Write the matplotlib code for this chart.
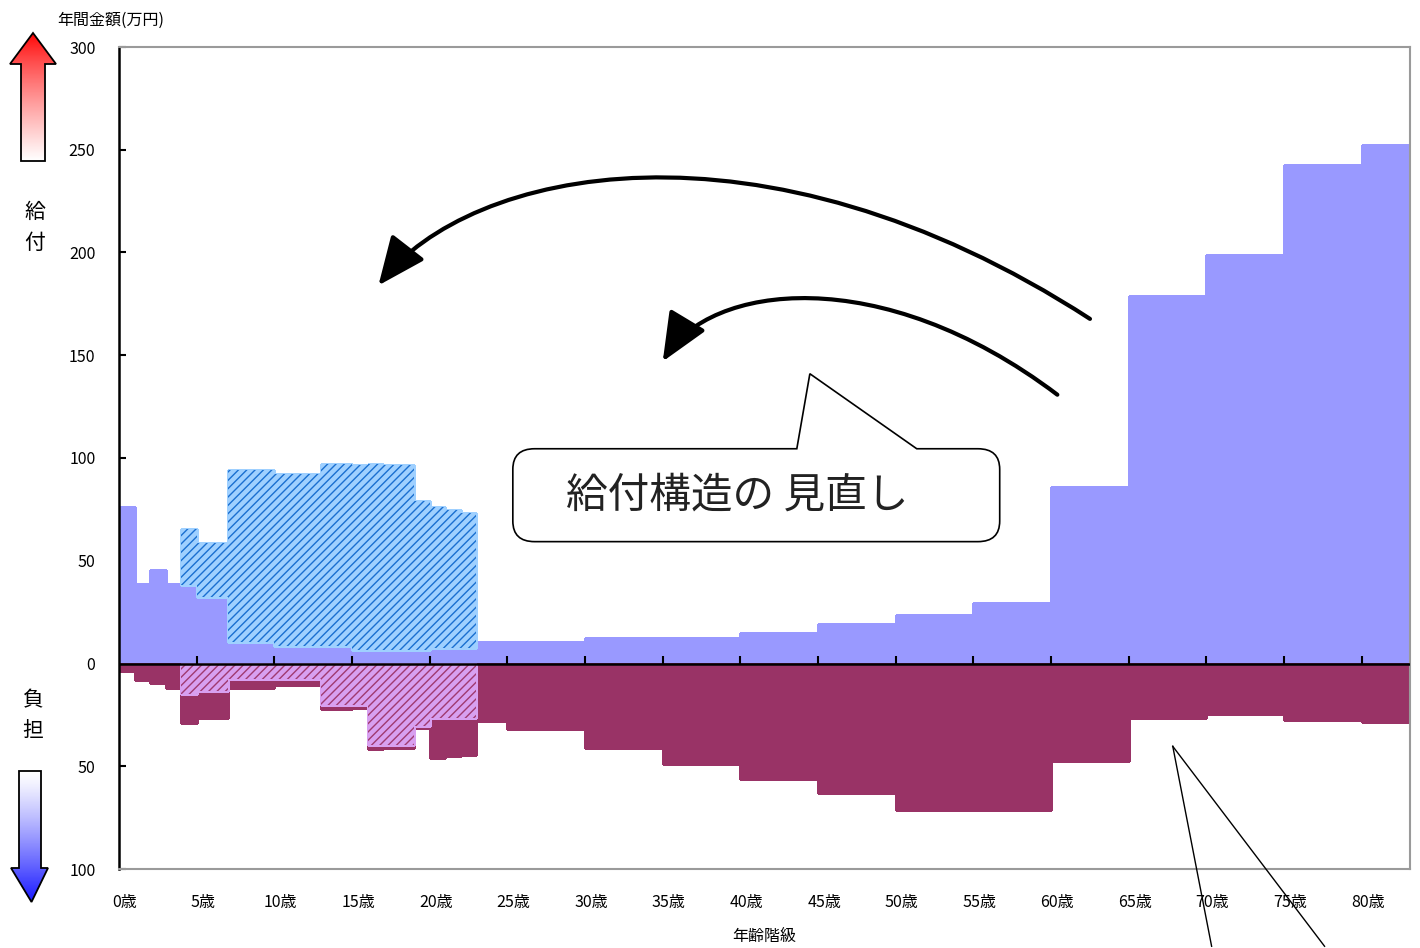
import numpy as np
import matplotlib

matplotlib.use("Agg")
import matplotlib.pyplot as plt
from matplotlib.patches import Polygon, FancyArrowPatch, PathPatch
from matplotlib.path import Path
from matplotlib.ticker import FuncFormatter
from matplotlib.transforms import ScaledTranslation

plt.rcParams["font.family"] = ["Noto Sans CJK JP", "DejaVu Sans"]
plt.rcParams["hatch.linewidth"] = 1.0

# age classes: single years 0-22, then 23-24 and five-year classes up to 80+
bin_start = list(range(0, 23)) + [23, 25, 30, 35, 40, 45, 50, 55, 60, 65, 70, 75, 80]
axis_end = 83.1

# 給付 (万円) : base part and hatched (education) part stacked on top
benefit_base = [76, 38.5, 45.5, 38.5, 38, 32.5, 32.5, 10.5, 10.5, 10.5,
                8.6, 8.6, 8.6, 8.6, 8.6, 6.5, 6.5, 6.5, 6.5, 6.5,
                7.3, 7.3, 7.3,
                10.5, 10.5, 12.5, 12.5, 14.6, 19.4, 23.5, 29.6, 86, 179, 199, 242.5, 252.5]
benefit_edu = [0, 0, 0, 0, 27.5, 26, 26, 83.5, 83.5, 83.5,
               83.4, 83.4, 83.4, 88.4, 88.4, 90, 90.5, 90, 90, 72.5,
               68.7, 67.2, 65.7,
               0, 0, 0, 0, 0, 0, 0, 0, 0, 0, 0, 0, 0]

# 負担 (万円) : hatched part next to the axis, solid part below it
burden_edu = [0, 0, 0, 0, 14.6, 13.5, 13.5, 7.5, 7.5, 7.5,
              7.5, 7.5, 7.5, 20.3, 20.3, 20.3, 39.7, 39.7, 39.7, 30.3,
              26.7, 26.7, 26.7,
              0, 0, 0, 0, 0, 0, 0, 0, 0, 0, 0, 0, 0]
burden_base = [3.7, 8, 9.7, 11.8, 14.4, 13.2, 13.2, 4.2, 4.2, 4.2,
               3.0, 3.0, 3.0, 1.6, 1.6, 1.2, 2.1, 1.6, 1.3, 0.9,
               19.3, 18.5, 17.6,
               28, 32, 41, 49, 56.2, 63.2, 71.5, 71.5, 47.5, 26.5, 24.5, 27.5, 28.5]

age_ticks = list(range(0, 85, 5))
age_labels = [f"{a}歳" for a in age_ticks]
value_ticks = [-100, -50, 0, 50, 100, 150, 200, 250, 300]

BLUE = "#9999ff"
MAROON = "#993366"
EDU_BLUE_FACE = "#9fd0ff"
EDU_BLUE_HATCH = "#1a6fd0"
EDU_PINK_FACE = "#d8a0f0"
EDU_PINK_HATCH = "#a03a70"
FRAME_GREY = "#9a9a9a"

fig = plt.figure(figsize=(14.2, 9.48), dpi=100)
ax = fig.add_axes([119 / 1420, 1 - 869 / 948, (1410 - 119) / 1420, (869 - 47) / 948])

left = np.array(bin_start, dtype=float)
width = np.append(left[1:], axis_end) - left
b_base = np.array(benefit_base)
b_edu = np.array(benefit_edu)
d_edu = np.array(burden_edu)
d_base = np.array(burden_base)

# benefit side
ax.bar(left, b_base, width, align="edge", color=BLUE, edgecolor=BLUE, linewidth=0.8,
       antialiased=False, zorder=2)
m = b_edu > 0
ax.bar(left[m], b_edu[m], width[m], bottom=b_base[m], align="edge",
       color=EDU_BLUE_FACE, edgecolor=EDU_BLUE_FACE, linewidth=0.8, antialiased=False, zorder=2)
ax.bar(left[m], b_edu[m], width[m], bottom=b_base[m], align="edge",
       facecolor="none", edgecolor=EDU_BLUE_HATCH, linewidth=0, hatch="////", zorder=3)

# burden side
ax.bar(left, -d_base, width, bottom=-d_edu, align="edge", color=MAROON, edgecolor=MAROON,
       linewidth=0.8, antialiased=False, zorder=2)
m = d_edu > 0
ax.bar(left[m], -d_edu[m], width[m], align="edge",
       color=EDU_PINK_FACE, edgecolor=EDU_PINK_FACE, linewidth=0.8, antialiased=False, zorder=2)
ax.bar(left[m], -d_edu[m], width[m], align="edge",
       facecolor="none", edgecolor=EDU_PINK_HATCH, linewidth=0, hatch="////", zorder=3)

# zero line with small upward ticks (Excel category axis)
ax.axhline(0, color="black", linewidth=1.8, zorder=4)
ax.vlines(age_ticks[1:], 0, 3.5, color="black", linewidth=1.5, zorder=4)

ax.set_xlim(0, axis_end)
ax.set_ylim(-100, 300)
ax.set_xticks(age_ticks)
ax.set_xticklabels(age_labels, fontsize=11.5)
ax.tick_params(axis="x", length=0, pad=18)
offset = ScaledTranslation(0.06, 0, fig.dpi_scale_trans)
for lab in ax.get_xticklabels():
    lab.set_transform(lab.get_transform() + offset)
ax.set_yticks(value_ticks)
ax.yaxis.set_major_formatter(FuncFormatter(lambda v, _: f"{abs(v):.0f}"))
ax.tick_params(axis="y", direction="in", length=5, width=1.5, pad=17, labelsize=11.5)
ax.set_xlabel("年齢階級", fontsize=11.5, labelpad=12)

ax.spines["left"].set_color("black")
ax.spines["left"].set_linewidth(1.8)
for s in ("top", "right", "bottom"):
    ax.spines[s].set_color(FRAME_GREY)
    ax.spines[s].set_linewidth(1.5)

# curved arrows (benefit shift to younger ages)
big = Path([(62.5, 167.7), (41.2, 272.0), (22.5, 240.6), (16.7, 184.0)],
           [Path.MOVETO, Path.CURVE4, Path.CURVE4, Path.CURVE4])
small = Path([(60.4, 130.8), (49.0, 196.0), (38.0, 184.7), (35.0, 147.0)],
             [Path.MOVETO, Path.CURVE4, Path.CURVE4, Path.CURVE4])
for p in (big, small):
    ax.add_patch(FancyArrowPatch(path=p, arrowstyle="-|>,head_length=1.5,head_width=0.65",
                                 mutation_scale=20, linewidth=3.0, color="black",
                                 shrinkA=0, shrinkB=0, zorder=6))

# speech balloon
L, R, T, B = 25.35, 56.69, 104.5, 59.3
rx, ry = 1.4, 10.0
verts = [(43.63, T), (44.47, 141.0), (51.35, T),
         (R - rx, T), (R, T), (R, T - ry),
         (R, B + ry), (R, B), (R - rx, B),
         (L + rx, B), (L, B), (L, B + ry),
         (L, T - ry), (L, T), (L + rx, T),
         (43.63, T)]
codes = [Path.MOVETO, Path.LINETO, Path.LINETO,
         Path.LINETO, Path.CURVE3, Path.CURVE3,
         Path.LINETO, Path.CURVE3, Path.CURVE3,
         Path.LINETO, Path.CURVE3, Path.CURVE3,
         Path.LINETO, Path.CURVE3, Path.CURVE3,
         Path.CLOSEPOLY]
ax.add_patch(PathPatch(Path(verts, codes), facecolor="white", edgecolor="black",
                       linewidth=1.2, zorder=6))
ax.text(39.8, 81.5, "給付構造の 見直し", ha="center", va="center", fontsize=30,
        color="#222222", zorder=7)

# pointer lines of a balloon below the chart
ax.plot([67.83, 70.33], [-40.3, -137.6], color="black", linewidth=1, clip_on=False, zorder=6)
ax.plot([67.83, 77.6], [-40.3, -137.6], color="black", linewidth=1, clip_on=False, zorder=6)

# left-margin decorations in pixel coordinates
deco = fig.add_axes([0, 0, 1, 1])
deco.set_xlim(0, 1420)
deco.set_ylim(948, 0)
deco.axis("off")

up = Polygon([(33, 33), (56, 64), (45, 64), (45, 161), (21, 161), (21, 64), (10, 64)],
             closed=True, facecolor="none", edgecolor="black", linewidth=1.3, zorder=3)
deco.add_patch(up)
grad = np.linspace(0, 1, 100)[:, None] ** 0.8
red = np.dstack([np.ones_like(grad), grad, grad])
im = deco.imshow(red, extent=(10, 56, 161, 33), aspect="auto", zorder=2)
im.set_clip_path(up)

down = Polygon([(19, 771), (41, 771), (41, 868), (48, 868), (31.5, 902), (11, 868), (19, 868)],
               closed=True, facecolor="none", edgecolor="black", linewidth=1.3, zorder=3)
deco.add_patch(down)
g2 = np.linspace(0, 1, 100)[:, None] ** 1.2
blue = np.dstack([1 - 0.9 * g2, 1 - 0.9 * g2, np.ones_like(g2)])
im2 = deco.imshow(blue, extent=(11, 48, 902, 771), aspect="auto", zorder=2)
im2.set_clip_path(down)
deco.set_xlim(0, 1420)
deco.set_ylim(948, 0)

deco.text(57, 20, "年間金額(万円)", ha="left", va="center", fontsize=11.5)
deco.text(35, 212, "給", ha="center", va="center", fontsize=15)
deco.text(35, 243, "付", ha="center", va="center", fontsize=15)
deco.text(33, 700, "負", ha="center", va="center", fontsize=15)
deco.text(33, 731, "担", ha="center", va="center", fontsize=15)

fig.savefig("out.png", dpi=100, facecolor="white")
